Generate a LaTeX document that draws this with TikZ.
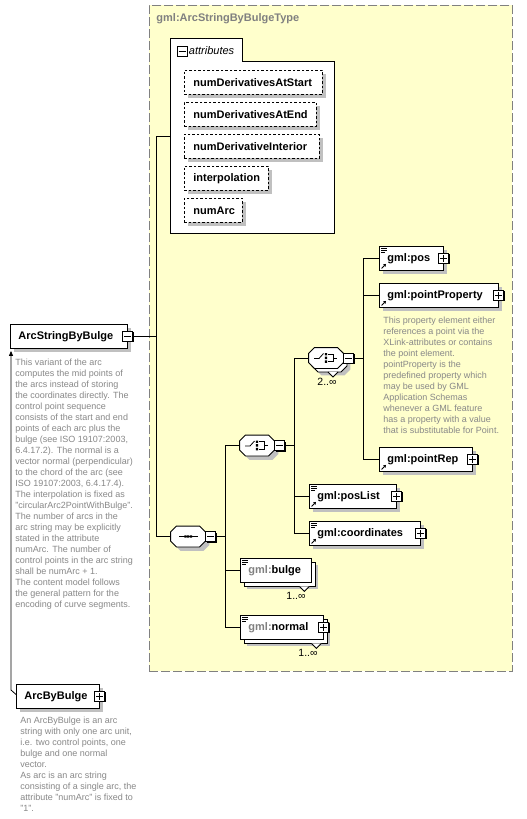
\documentclass[tikz,border=0pt]{standalone}
\usepackage{fontspec}
\setmainfont{Liberation Sans}
\usetikzlibrary{arrows.meta,calc}
\definecolor{yel}{RGB}{255,255,204}
\definecolor{shd}{RGB}{192,192,192}
\definecolor{dgray}{RGB}{128,128,128}
\definecolor{tgray}{RGB}{136,136,136}
\newcommand\lblfont{\bfseries\fontsize{11}{13}\selectfont}
\newcommand\descfont{\fontsize{9}{11}\selectfont}
\newcommand\minusmark[1]{\draw[line width=.9pt] ([xshift=2pt]#1.west) -- ([xshift=-2pt]#1.east);}
\newcommand\plusmark[1]{\draw[line width=.9pt] ([xshift=2pt]#1.west) -- ([xshift=-2pt]#1.east) ([yshift=-2pt]#1.north) -- ([yshift=2pt]#1.south);}
\newcommand\eqicon[1]{\begin{scope}[shift={(#1.north west)}]\draw[line width=.6pt] (2,2.5)--(8,2.5) (2,4.5)--(8,4.5) (2,6.5)--(6,6.5);\end{scope}}
\newcommand\reficon[1]{\begin{scope}[shift={(#1.south west)}]\draw[line width=.9pt,-{Triangle[length=2.5pt,width=3.2pt]}] (2.5,-2.5) -- (7,-7);\end{scope}}
\newcommand\seqicon[1]{\begin{scope}[shift={(#1.center)}]\draw[line width=.8pt] (-9,0) -- (10,0);\fill (-3.6,-1.2) rectangle ++(2.2,2.4) (-0.8,-1.2) rectangle ++(2.2,2.4) (2.0,-1.2) rectangle ++(2.2,2.4);\end{scope}}
\newcommand\choiceicon[1]{\begin{scope}[shift={(#1.center)}]\draw[line width=.8pt] (-12,0.5) -- (-7,0.5) -- (-2.5,-4.5);
\fill (-1.2,-5) rectangle ++(2.4,2.4) (-1.2,-1.3) rectangle ++(2.4,2.4) (-1.2,2.4) rectangle ++(2.4,2.4);
\draw[line width=.8pt] (2,-3.8) -- (7,-3.8) -- (7,3.6) -- (2,3.6) (7,0) -- (10.5,0);\end{scope}}
% octagon outline of a compositor node
\newcommand\octo[2]{\draw[#2] ([xshift=6pt]#1.north west) -- ([xshift=-6pt]#1.north east) -- ([yshift=-6pt]#1.north east) -- ([yshift=6pt]#1.south east) -- ([xshift=-6pt]#1.south east) -- ([xshift=6pt]#1.south west) -- ([yshift=6pt]#1.south west) -- ([yshift=-6pt]#1.north west) -- cycle;}
\begin{document}
\begin{tikzpicture}[x=1pt,y=-1pt,line width=0.9pt,
  shadow/.style={preaction={fill=shd,draw=none,transform canvas={shift={(4pt,-4pt)}}}},
  ebase/.style={draw, fill=white, minimum height=24pt, inner xsep=8pt, inner ysep=0pt, anchor=north west, align=left, font=\lblfont},
  elem/.style={ebase, shadow},
  melem/.style={ebase, preaction={fill=shd,draw=none,transform canvas={shift={(7pt,-7pt)}}}, preaction={draw,fill=white,transform canvas={shift={(3.5pt,-3.5pt)}}}},
  attr/.style={elem, dash pattern=on 2.5pt off 2pt, line width=.8pt, inner xsep=9pt},
  btn/.style={draw, fill=white, minimum size=10pt, inner sep=0pt, line width=1pt, preaction={fill=black,draw=none,transform canvas={shift={(1pt,-1pt)}}}},
  compbox/.style={minimum width=34pt, minimum height=20pt, inner sep=0pt},
  desc/.style={anchor=north west, align=left, inner sep=0pt, text=tgray, font=\descfont},
  mult/.style={inner sep=0pt, font=\fontsize{10.5}{12}\selectfont}
]
\fill[white] (0,0) rectangle (527,819);
\useasboundingbox (0,0) rectangle (527,819);

% complex type container
\node[draw=dgray, dash pattern=on 9pt off 3pt, fill=yel, minimum width=363pt, minimum height=666pt, inner sep=0pt, anchor=north west] (typebox) at (149,5) {};
\node[anchor=west, text=dgray, font=\lblfont, inner sep=0pt] (title) at (156,19) {gml:ArcStringByBulgeType};

% attributes group
\draw[fill=white] (170,233) -- (170,38) -- (242,38) -- (242,61) -- (334,61) -- (334,233) -- cycle;
\coordinate (attrin) at (170,136);
\node[btn] (attrbtn) at (182,51) {};
\minusmark{attrbtn}
\node[anchor=west, inner sep=0pt, font=\itshape\fontsize{11}{13}\selectfont] (attrlbl) at (188.5,50.5) {attributes};

\node[attr, text width=120pt] (a1) at (184,70) {numDerivativesAtStart};
\node[attr, text width=114pt] (a2) at (184,102) {numDerivativesAtEnd};
\node[attr, text width=117pt] (a3) at (184,134) {numDerivativeInterior};
\node[attr, text width=66pt] (a4) at (184,166) {interpolation};
\node[attr, text width=40pt] (a5) at (184,198) {numArc};

% elements
\node[elem, text width=101pt] (asb) at (10,324) {ArcStringByBulge};
\node[btn] (asbbtn) at (asb.east) {};
\minusmark{asbbtn}

\node[elem, text width=48pt] (pos) at (379,246) {gml:pos};
\node[elem, text width=103pt] (pointprop) at (379,283) {gml:pointProperty};
\node[elem, text width=77pt] (pointrep) at (379,447) {gml:pointRep};
\node[elem, text width=71pt] (poslist) at (309,484) {gml:posList};
\node[elem, text width=95pt] (coords) at (309,521) {gml:coordinates};
\node[melem, text width=55pt] (bulge) at (240,558) {{\color{dgray}gml:}bulge};
\node[melem, text width=67pt] (normal) at (240,615) {{\color{dgray}gml:}normal};
\node[elem, text width=67pt] (abb) at (16,684) {ArcByBulge};

\foreach \n in {pos,pointprop,pointrep,poslist,coords,normal,abb}{
  \node[btn] (\n btn) at (\n.east) {};
  \plusmark{\n btn}
}

% multiplicity notches
\draw[fill=white,line width=.8pt] ([shift={(-12.5,3.5)}]bulge.south east) -- ([shift={(-7.5,8.5)}]bulge.south east) -- ([shift={(-2.5,3.5)}]bulge.south east);
\draw[fill=white,line width=.8pt] ([shift={(-12.5,3.5)}]normal.south east) -- ([shift={(-7.5,8.5)}]normal.south east) -- ([shift={(-2.5,3.5)}]normal.south east);
\node[mult] (mbulge) at (296,596) {1..∞};
\node[mult] (mnormal) at (308,653) {1..∞};

% compositors
\node[compbox] (seq) at (188,536.5) {};
\octo{seq}{fill=shd,draw=none,transform canvas={shift={(4pt,-4pt)}}}
\octo{seq}{fill=white}
\node[btn, anchor=west] (seqbtn) at (seq.east) {};
\minusmark{seqbtn}

\node[compbox] (ch1) at (257,445.5) {};
\octo{ch1}{fill=shd,draw=none,transform canvas={shift={(4pt,-4pt)}}}
\octo{ch1}{fill=white}
\node[btn, anchor=west] (ch1btn) at (ch1.east) {};
\minusmark{ch1btn}

\node[compbox] (ch2) at (326,358) {};
\octo{ch2}{fill=shd,draw=none,transform canvas={shift={(7pt,-7pt)}}}
\octo{ch2}{fill=white,transform canvas={shift={(3.5pt,-3.5pt)}}}
\draw[fill=white,line width=.8pt] ([shift={(2,3.5)}]ch2.south) -- ([shift={(7,8.5)}]ch2.south) -- ([shift={(12,3.5)}]ch2.south);
\octo{ch2}{fill=white}
\node[btn, anchor=west] (ch2btn) at (ch2.east) {};
\minusmark{ch2btn}
\node[mult] (mch2) at (327,382) {2..∞};

\seqicon{seq}
\choiceicon{ch1}
\choiceicon{ch2}

% icons in element boxes
\foreach \n in {pos,poslist,coords,bulge,normal}{\eqicon{\n}}
\foreach \n in {pos,pointprop,pointrep,poslist,coords}{\reficon{\n}}

% connectors
\coordinate (b1) at (156,0);
\coordinate (b2) at (225,0);
\coordinate (b3) at (294,0);
\coordinate (b4) at (363,0);
\draw (asbbtn.east) -- (asbbtn.east -| b1);
\draw (attrin) -| (b1 |- seq.west) -- (seq.west);
\draw (seqbtn.east) -- (seqbtn.east -| b2);
\draw (ch1.west) -| (b2 |- normal.west) -- (normal.west);
\draw (b2 |- bulge.west) -- (bulge.west);
\draw (ch1btn.east) -- (ch1btn.east -| b3);
\draw (ch2.west) -| (b3 |- coords.west) -- (coords.west);
\draw (b3 |- poslist.west) -- (poslist.west);
\draw (ch2btn.east) -- (ch2btn.east -| b4);
\draw (pos.west) -| (b4 |- pointrep.west) -- (pointrep.west);
\draw (b4 |- pointprop.west) -- (pointprop.west);

% inheritance
\coordinate (abbk) at (11,690);
\coordinate (asbtip) at ([yshift=-2pt]asb.south west);
\draw[line width=.8pt,-{Triangle[length=5pt,width=4pt]}] ([yshift=2pt]abb.west) -- (abbk) -- (abbk |- asbtip);

% documentation
\node[desc] (dasb) at (15,358.5) {This variant of the arc\\computes the mid points of\\the arcs instead of storing\\the coordinates directly. The\\control point sequence\\consists of the start and end\\points of each arc plus the\\bulge (see ISO 19107:2003,\\6.4.17.2). The normal is a\\vector normal (perpendicular)\\to the chord of the arc (see\\ISO 19107:2003, 6.4.17.4).\\The interpolation is fixed as\\"circularArc2PointWithBulge".\\The number of arcs in the\\arc string may be explicitly\\stated in the attribute\\numArc. The number of\\control points in the arc string\\shall be numArc + 1.\\The content model follows\\the general pattern for the\\encoding of curve segments.};
\node[desc] (dpp) at (383,316.5) {This property element either\\references a point via the\\XLink-attributes or contains\\the point element.\\pointProperty is the\\predefined property which\\may be used by GML\\Application Schemas\\whenever a GML feature\\has a property with a value\\that is substitutable for Point.};
\node[desc] (dabb) at (20,716.5) {An ArcByBulge is an arc\\string with only one arc unit,\\i.e. two control points, one\\bulge and one normal\\vector.\\As arc is an arc string\\consisting of a single arc, the\\attribute "numArc" is fixed to\\"1".};
\end{tikzpicture}
\end{document}
